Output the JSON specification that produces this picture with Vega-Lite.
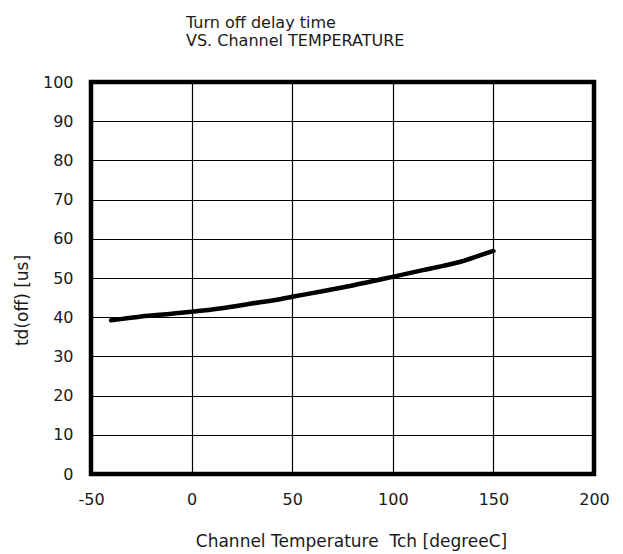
{
  "$schema": "https://vega.github.io/schema/vega-lite/v6.json",
  "width": 503,
  "height": 392,
  "autosize": "none",
  "padding": {"left": 91, "top": 82, "right": 29, "bottom": 80},
  "background": "white",
  "title": {
    "text": ["Turn off delay time", "VS. Channel TEMPERATURE"],
    "anchor": "start",
    "dx": 173,
    "offset": 25,
    "font": "DejaVu Sans",
    "fontSize": 16,
    "fontWeight": "normal",
    "color": "#1a1a1a",
    "lineHeight": 18
  },
  "config": {
    "view": {"stroke": "black", "strokeWidth": 4.5},
    "axis": {
      "labelFont": "DejaVu Sans",
      "titleFont": "DejaVu Sans",
      "labelFontSize": 16,
      "titleFontSize": 17,
      "titleFontWeight": "normal",
      "labelColor": "#1a1a1a",
      "titleColor": "#1a1a1a",
      "gridColor": "#000",
      "gridOpacity": 1,
      "gridWidth": 1.2,
      "domain": false,
      "ticks": false,
      "labelFlush": false
    }
  },
  "data": {
    "values": [
      {"t": -40, "td": 39.2},
      {"t": -25, "td": 40.2},
      {"t": -10, "td": 40.9},
      {"t": 0, "td": 41.4},
      {"t": 15, "td": 42.3},
      {"t": 30, "td": 43.5},
      {"t": 44, "td": 44.6},
      {"t": 50, "td": 45.2},
      {"t": 65, "td": 46.6},
      {"t": 80, "td": 48.1},
      {"t": 100, "td": 50.3},
      {"t": 115, "td": 52.0},
      {"t": 125, "td": 53.1},
      {"t": 134, "td": 54.2},
      {"t": 144, "td": 55.9},
      {"t": 150, "td": 56.9}
    ]
  },
  "mark": {"type": "line", "color": "black", "strokeWidth": 4.5, "strokeCap": "round", "interpolate": "monotone"},
  "encoding": {
    "x": {
      "field": "t",
      "type": "quantitative",
      "scale": {"domain": [-50, 200], "nice": false},
      "axis": {
        "values": [-50, 0, 50, 100, 150, 200],
        "labelExpr": "'' + datum.value",
        "title": "Channel Temperature\u00a0 Tch [degreeC]",
        "labelPadding": 17,
        "titlePadding": 26,
        "titleX": 260
      }
    },
    "y": {
      "field": "td",
      "type": "quantitative",
      "scale": {"domain": [0, 100], "nice": false},
      "axis": {
        "values": [0, 10, 20, 30, 40, 50, 60, 70, 80, 90, 100],
        "title": "td(off) [us]",
        "labelPadding": 18,
        "titleX": -60,
        "titleY": 218
      }
    }
  }
}
